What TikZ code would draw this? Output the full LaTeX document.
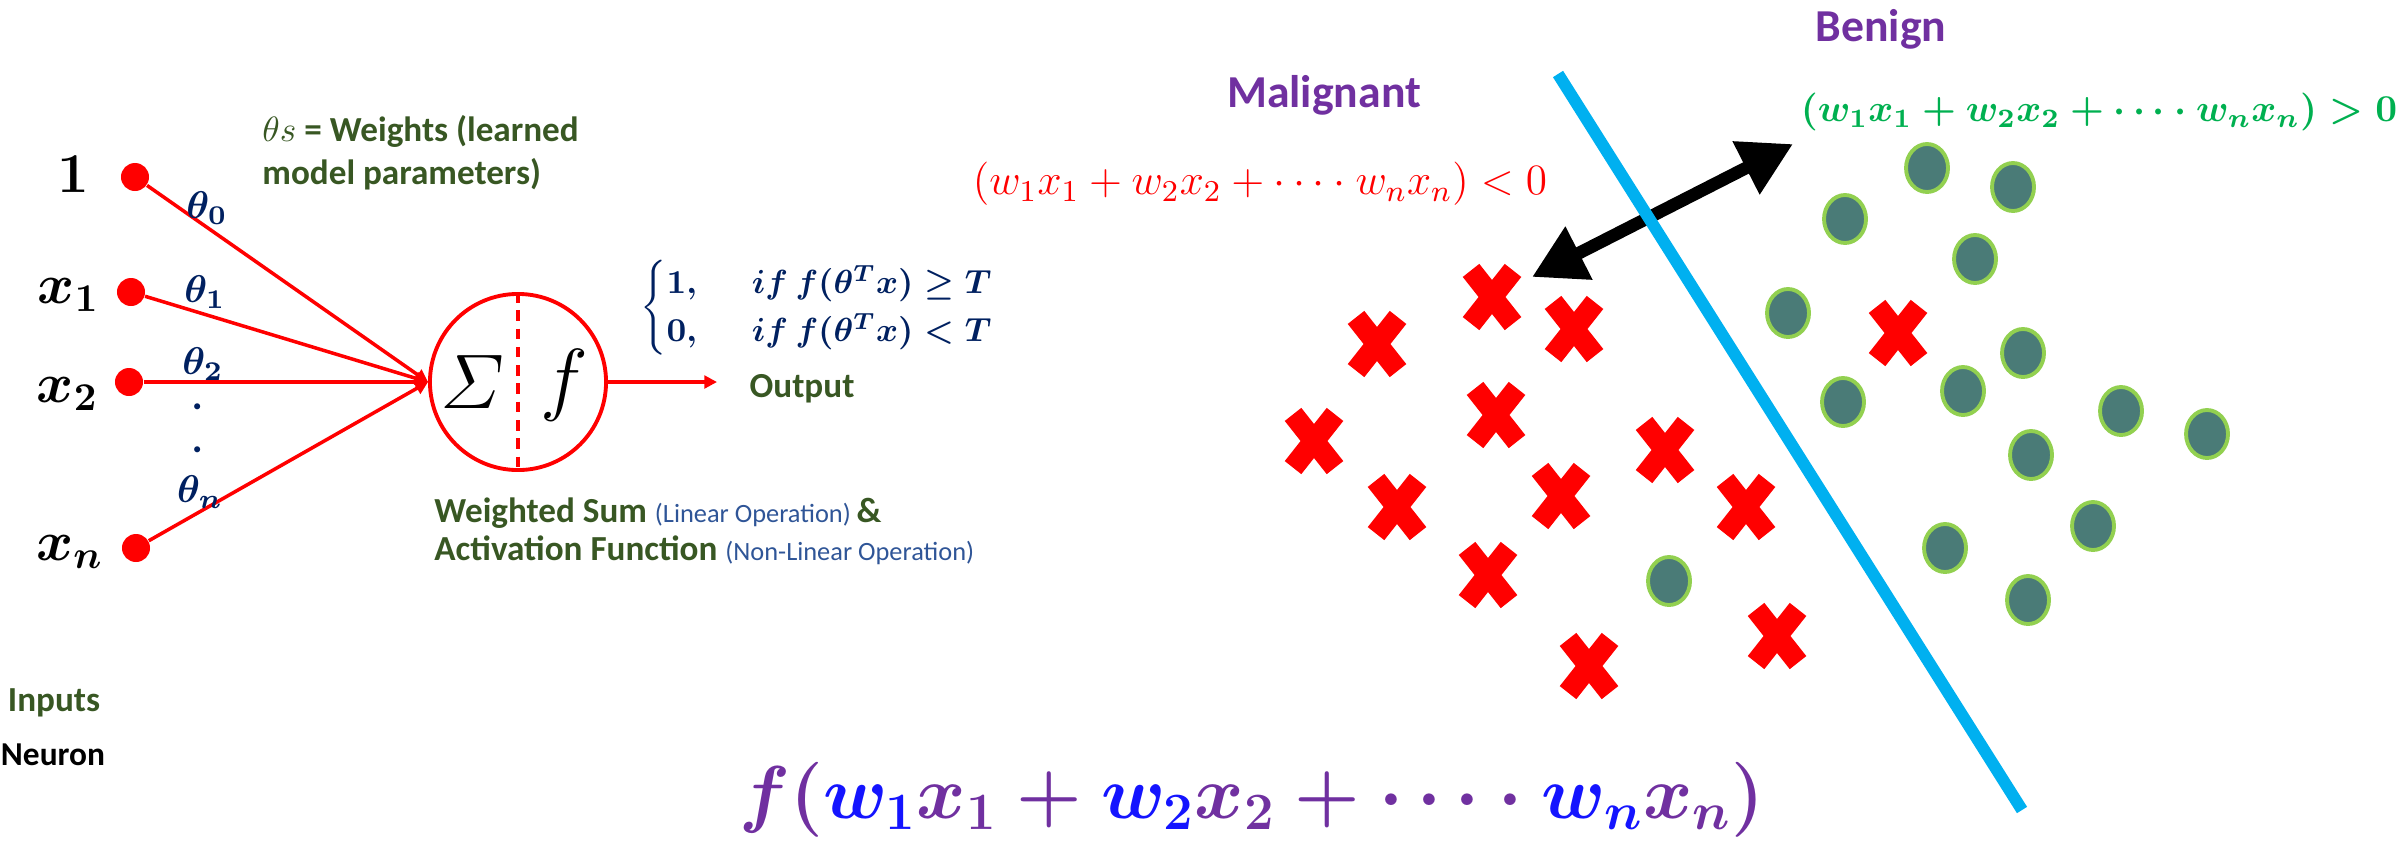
\RequirePackage{fix-cm}
\documentclass[tikz,border=0pt]{standalone}
\usepackage{amsmath}
\usepackage[no-math]{fontspec}
\setmainfont{Carlito}
\usetikzlibrary{arrows.meta}
\definecolor{wgreen}{HTML}{385723}
\definecolor{opblue}{HTML}{2F5597}
\definecolor{navy}{HTML}{002060}
\definecolor{clspurple}{HTML}{7030A0}
\definecolor{posgreen}{HTML}{00B050}
\definecolor{bndblue}{HTML}{00B0F0}
\definecolor{wblue}{HTML}{1414FF}
\definecolor{dotteal}{HTML}{4A7B77}
\definecolor{dotrim}{HTML}{92D050}
\newcommand{\opnote}[1]{{\mdseries\fontsize{7.5}{9}\selectfont\color{opblue}#1}}
\newcommand{\bw}[1]{\textcolor{wblue}{w_{#1}}}

\begin{document}
\begin{tikzpicture}[x=0.01cm,y=-0.01cm,
  inp/.style={circle,fill=red,inner sep=0pt,minimum size=0.28cm},
  wire/.style={red,line width=1pt,-{Triangle[length=3.6pt,width=3.6pt]}},
  inlbl/.style={anchor=base east,inner sep=0pt,font=\fontsize{16}{18}\selectfont\boldmath},
  wlbl/.style={text=navy,font=\fontsize{11}{13}\selectfont\boldmath},
  gtxt/.style={text=wgreen,font=\fontsize{10}{12.2}\selectfont\bfseries},
  cls/.style={text=clspurple,font=\fontsize{13}{15}\selectfont\bfseries},
  benign/.style={draw=dotrim,fill=dotteal,line width=1.1pt},
  malx/.pic={\draw[red,line width=6pt] (-21,-26.6)--(21,26.6) (-21,26.6)--(21,-26.6);}]
\useasboundingbox (0,0) rectangle (2407,851);

% neuron
\node[inp] (d0) at (135,177) {};
\node[inp] (d1) at (131,292) {};
\node[inp] (d2) at (129,382) {};
\node[inp] (dn) at (136,548) {};
\node[inlbl] (l0) at (90,192) {$1$};
\node[inlbl] (l1) at (100,303) {$x_1$};
\node[inlbl] (l2) at (99,402) {$x_2$};
\node[inlbl] (ln) at (104,560) {$x_n$};

\node[circle,draw=red,line width=1.1pt,minimum size=1.76cm,inner sep=0pt] (neu) at (518,382) {};
\draw[red,line width=1pt,dash pattern=on 3pt off 2.2pt] (neu.north) -- (neu.south);
\node (sig) at (472,382) {\fontsize{22}{24}\selectfont$\varSigma$};
\node (fn) at (564,385) {\fontsize{23}{25}\selectfont$f$};
\foreach \d in {d0,d1,d2,dn} \draw[wire] (\d) -- (neu.west);
\coordinate (out) at (717,382);
\draw[wire] (neu.east) -- (out);

\node[wlbl] (t0) at (207,208) {$\theta_0$};
\node[wlbl] (t1) at (205,292) {$\theta_1$};
\node[wlbl] (t2) at (203,364) {$\theta_2$};
\node[wlbl] (vd1) at (198,407) {$\cdot$};
\node[wlbl] (vd2) at (198,450) {$\cdot$};
\node[wlbl] (tn) at (200,492) {$\theta_n$};

\node[gtxt,anchor=base west,align=left] (wnote) at (250,184) {$\theta s$ = Weights (learned\\model parameters)};
\node[text=navy,anchor=west,font=\fontsize{9.5}{11.4}\selectfont\boldmath] (rule) at (628,308)
  {$\begin{cases}1, & \;\; if\ f(\theta^T x)\geq T\\ 0, & \;\; if\ f(\theta^T x)<T\end{cases}$};
\node[gtxt] (outlbl) at (802,389) {Output};
\node[gtxt,anchor=base west,align=left,font=\fontsize{10}{10.8}\selectfont\bfseries] (wsum) at (422,560)
  {Weighted Sum \opnote{(Linear Operation)}\,\&\\Activation Function \opnote{(Non-Linear Operation)}};
\node[gtxt] (inlabel) at (54,703) {Inputs};
\node[font=\fontsize{9.5}{11}\selectfont\bfseries] (neulabel) at (53,755) {Neuron};

% classifier
\coordinate (bd1) at (1558,74);
\coordinate (bd2) at (2022,810);
\coordinate (arrA) at (1532,277);
\coordinate (arrB) at (1793,144);
\draw[line width=3.6pt,{Triangle[length=15pt,width=16pt]}-{Triangle[length=15pt,width=16pt]}] (arrA) -- (arrB);
\draw[bndblue,line width=3.4pt] (bd1) -- (bd2);

\foreach \x/\y in {1492/297,1377/344,1574/329,1496/415,1314/441,1397/507,1561/496,1665/450,1746/507,1488/575,1589/666,1777/636,1898/333}
  \pic at (\x,\y) {malx};
\foreach \x/\y in {1927/168,2013/187,1845/219,1975/259,1788/313,2023/353,1843/402,1963/391,2121/411,2207/434,2031/455,2093/526,1945/548,2028/600,1669/581}
  \draw[benign] (\x,\y) ellipse (21 and 24);

\node[cls] (mal) at (1324,95) {Malignant};
\node[cls] (ben) at (1881,29) {Benign};
\node[text=red,font=\fontsize{12.3}{15}\selectfont] (negrule) at (1260,184) {$(w_1x_1+w_2x_2+\cdots\cdot w_nx_n)<0$};
\node[text=posgreen,font=\fontsize{10.8}{13}\selectfont\boldmath] (posrule) at (2099,112) {$(w_1x_1+w_2x_2+\cdots\cdot w_nx_n)>0$};
\node[text=clspurple,font=\fontsize{21.3}{25}\selectfont\boldmath] (fsum) at (1252,800) {$f(\bw{1}x_1+\bw{2}x_2+\cdots\cdot\bw{n}x_n)$};
\end{tikzpicture}
\end{document}
